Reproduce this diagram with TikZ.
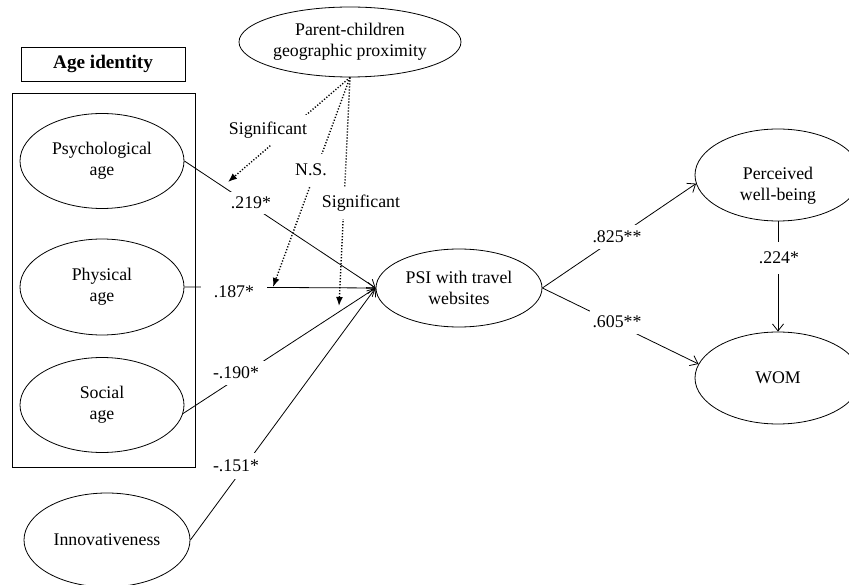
\documentclass[tikz,border=0pt]{standalone}
\usepackage{fontspec}
\setmainfont{Liberation Serif}
\usetikzlibrary{shapes.geometric,arrows.meta}
\begin{document}
\begin{tikzpicture}[x=1pt,y=-1pt,
  every node/.style={font=\fontsize{17.8}{21}\selectfont, text=black, align=center},
  oval/.style={ellipse, draw, line width=0.8pt, inner sep=0pt},
  box/.style={draw, line width=0.8pt, inner sep=0pt},
  lbl/.style={fill=white, inner xsep=3pt, inner ysep=5pt},
  solarr/.style={line width=0.8pt, -{Straight Barb[length=7pt,width=11pt,line width=0.8pt]}},
  dotarr/.style={line width=1.4pt, dash pattern=on 1.2pt off 1.8pt, -{Latex[length=9pt,width=7pt]}}
]
\useasboundingbox (0,0) rectangle (849,585);

% nodes
\node[oval, minimum width=222pt, minimum height=70pt] (parent) at (350,42) {Parent-children\\geographic proximity};
\node[box, minimum width=164pt, minimum height=34pt, font=\fontsize{19.2}{21}\selectfont\bfseries] (agebox) at (103,64) {Age identity};
\node[box, minimum width=183pt, minimum height=374pt] (group) at (103.5,280) {};
\node[oval, minimum width=164pt, minimum height=95pt] (psych) at (102,161) {Psychological\\age};
\node[oval, minimum width=164pt, minimum height=96pt] (phys) at (102,287) {Physical\\age};
\node[oval, minimum width=164pt, minimum height=95pt] (social) at (102,405) {Social\\age};
\node[oval, minimum width=166pt, minimum height=94pt] (innov) at (107,540) {Innovativeness};
\node[oval, minimum width=166pt, minimum height=78pt] (psi) at (459,288) {PSI with travel\\websites};
\node[oval, minimum width=166pt, minimum height=92pt] (perc) at (778,175) {};
\node (perctext) at (778,186) {Perceived\\well-being};
\node[oval, minimum width=166pt, minimum height=92pt] (wom) at (778,378) {WOM};

\coordinate (t1) at (228,182);
\coordinate (t2) at (273,287);
\coordinate (t3) at (339,306);

% connectors
\draw[solarr] (psych.east) -- (psi.west);
\draw[solarr] (phys.east) -- (psi.west);
\draw[solarr] (social.-6) -- (psi.west);
\draw[solarr] (innov.east) -- (psi.west);
\draw[solarr] (psi.east) -- (perc.186);
\draw[solarr] (psi.east) -- (wom.170);
\draw[solarr] (perc.south) -- (wom.north);
\draw[dotarr] (parent.south) -- (t1);
\draw[dotarr] (parent.south) -- (t2);
\draw[dotarr] (parent.south) -- (t3);

% labels
\node[lbl, inner ysep=7pt] (lsig1) at (268,130) {Significant};
\node[lbl, inner ysep=10pt, inner xsep=2pt] (lns) at (311,170) {N.S.};
\node[lbl, inner ysep=8pt] (lsig2) at (361,203) {Significant};
\node[lbl] (l219) at (251,203) {.219*};
\node[lbl, inner xsep=13pt] (l187) at (234,292) {.187*};
\node[lbl, inner xsep=6pt, inner ysep=6pt] (l190) at (236,373) {-.190*};
\node[lbl, inner xsep=6pt, inner ysep=7pt] (l151) at (236,466) {-.151*};
\node[lbl, inner ysep=6pt] (l825) at (617,237) {.825**};
\node[lbl, inner ysep=6pt] (l605) at (617,322) {.605**};
\node[lbl, inner ysep=10pt] (l224) at (779,258) {.224*};
\end{tikzpicture}
\end{document}
